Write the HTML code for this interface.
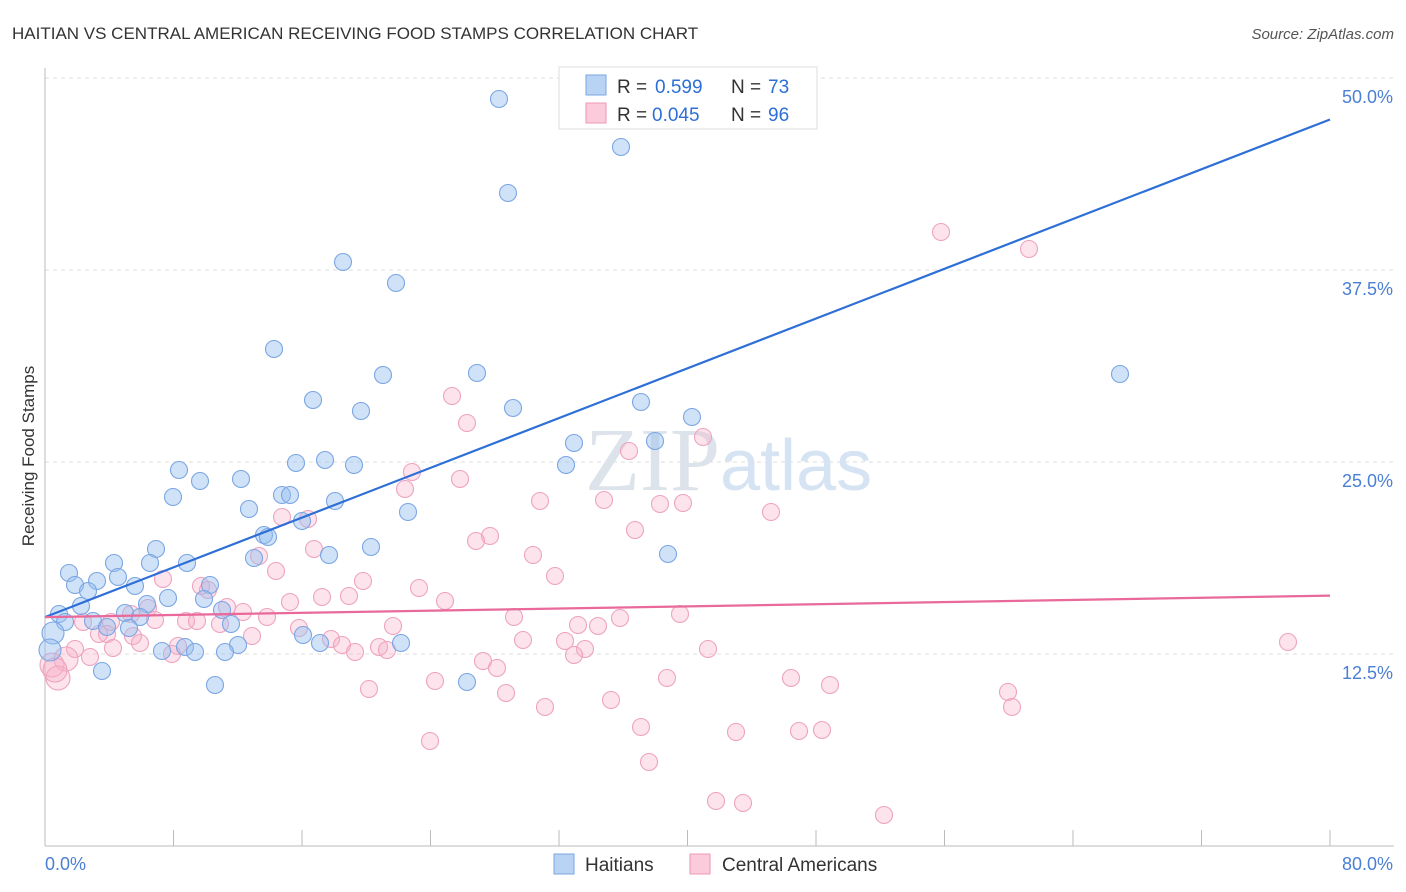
<!DOCTYPE html>
<html><head><meta charset="utf-8"><style>
body{margin:0;background:#fff;font-family:"Liberation Sans",sans-serif;}
svg{display:block}
</style></head><body>
<svg width="1406" height="892" xmlns="http://www.w3.org/2000/svg" font-family="Liberation Sans, sans-serif">
<text x="12" y="39" font-size="17" fill="#333">HAITIAN VS CENTRAL AMERICAN RECEIVING FOOD STAMPS CORRELATION CHART</text>
<text x="1394" y="39" font-size="15" fill="#555" font-style="italic" text-anchor="end">Source: ZipAtlas.com</text>
<g id="grid"></g>
<g id="axes"></g>
<text x="720" y="490" font-size="90" fill="#dde3ea" text-anchor="end" font-family="Liberation Serif, serif">ZIP</text>
<text x="720" y="490" font-size="72" fill="#d5e3f3">atlas</text>
<g id="pts"></g>
<g id="lines"></g>
<text transform="translate(34,456) rotate(-90)" font-size="17" fill="#333" text-anchor="middle">Receiving Food Stamps</text>
<g>
<rect x="559" y="67" width="258" height="62" fill="#fff" stroke="#ddd"/>
<rect x="586" y="75" width="20" height="20" fill="#b9d3f5" stroke="#7aa6e0"/>
<rect x="586" y="103" width="20" height="20" fill="#fbcadb" stroke="#ec9ab8"/>
<text x="617" y="93" font-size="19" fill="#333">R =</text>
<text x="655" y="93" font-size="19" fill="#2d6fd6">0.599</text>
<text x="731" y="93" font-size="19" fill="#333">N =</text>
<text x="768" y="93" font-size="19" fill="#2d6fd6">73</text>
<text x="617" y="121" font-size="19" fill="#333">R =</text>
<text x="652" y="121" font-size="19" fill="#2d6fd6">0.045</text>
<text x="731" y="121" font-size="19" fill="#333">N =</text>
<text x="768" y="121" font-size="19" fill="#2d6fd6">96</text>
</g>
<g>
<rect x="554" y="854" width="20" height="20" fill="#b9d3f5" stroke="#7aa6e0"/>
<text x="585" y="871" font-size="19" fill="#333">Haitians</text>
<rect x="690" y="854" width="20" height="20" fill="#fbcadb" stroke="#ec9ab8"/>
<text x="722" y="871" font-size="19" fill="#333">Central Americans</text>
</g>
</svg>
<script>
const yTicks=[12.5,25,37.5,50];
const yTickLabels=["12.5%","25.0%","37.5%","50.0%"];
const xTickVals=[0,8,16,24,32,40,48,56,64,72,80];
const blueX=[499,621,508,343,396,274,383,477,313,361,513,641,574,655,692,1120,179,200,173,241,296,325,354,282,290,335,249,302,264,268,408,371,329,668,566,156,187,114,150,69,97,118,75,135,210,254,88,81,168,147,204,59,125,140,222,93,65,107,129,231,53,303,320,238,185,162,195,225,401,102,215,467,50].map(p=>(p-45)/1285*80);
const blueY=[99,147,193,262,283,349,375,373,400,411,408,402,443,441,417,374,470,481,497,479,463,460,465,495,495,501,509,521,535,537,512,547,555,554,465,549,563,563,563,573,581,577,585,586,585,558,591,606,598,604,599,614,613,617,610,621,622,627,628,624,633,635,643,645,647,651,652,652,643,671,685,682,650].map(p=>(846-p)/15.36);
const pinkX=[941,1029,452,467,703,629,412,460,405,540,604,660,683,771,282,308,490,476,635,314,533,259,276,163,555,363,419,201,208,322,349,445,290,227,243,267,148,131,155,514,620,680,186,197,220,83,111,299,393,578,598,107,99,133,252,331,523,140,178,113,75,342,379,387,565,585,574,708,1288,172,90,355,66,483,497,52,58,667,791,830,435,369,506,611,1008,1012,545,641,736,799,822,430,649,716,743,884,55].map(p=>(p-45)/1285*80);
const pinkY=[232,249,396,423,437,451,472,479,489,501,500,504,503,512,517,519,536,541,530,549,555,556,571,579,576,581,588,586,590,597,596,601,602,607,612,617,608,614,620,617,618,614,621,621,624,622,622,628,626,625,626,634,634,636,636,639,640,643,646,648,649,645,647,650,641,649,655,649,642,654,657,652,659,661,668,665,678,678,678,685,681,689,693,700,692,707,707,727,732,731,730,741,762,801,803,815,670].map(p=>(846-p)/15.36);
const blueLine=[14.9,47.3];
const pinkLine=[14.9,16.3];
const X=v=>45+v/80*1285, Y=v=>846-v*15.36;
const NS="http://www.w3.org/2000/svg";
function mk(t,a,parent){const e=document.createElementNS(NS,t);for(const k in a)e.setAttribute(k,a[k]);parent.appendChild(e);return e;}
const grid=document.getElementById('grid'),axes=document.getElementById('axes'),pts=document.getElementById('pts'),lines=document.getElementById('lines');
yTicks.forEach((v,i)=>{
 const l=mk('line',{x1:45,x2:1394,y1:Y(v),y2:Y(v),stroke:'#ddd','stroke-dasharray':'4,4'},grid);
 
 
 const t=mk('text',{x:1393,y:Y(v)+25,'font-size':18,fill:'#4a7fd4','text-anchor':'end'},axes);
 t.textContent=yTickLabels[i];
 
 
});
const ax=mk('line',{x1:45,x2:1394,y1:846,y2:846,stroke:'#bbb'},axes);


const ay=mk('line',{x1:45,x2:45,y1:68,y2:846,stroke:'#bbb'},axes);


xTickVals.forEach(v=>{const t=mk('line',{x1:X(v),x2:X(v),y1:830,y2:846,stroke:'#bbb'},axes);
 
 });
const xl0=mk('text',{x:45,y:870,'font-size':18,fill:'#4a7fd4'},axes);xl0.textContent='0.0%';


const xl1=mk('text',{x:1393,y:870,'font-size':18,fill:'#4a7fd4','text-anchor':'end'},axes);xl1.textContent='80.0%';


pinkX.forEach((x,i)=>{const r=(x<1.5)?12:8.5;const c=mk('circle',{cx:X(x),cy:Y(pinkY[i]),r:r,fill:'rgba(246,175,200,0.35)',stroke:'#eea3bf','stroke-width':1.1},pts);
 
 });
blueX.forEach((x,i)=>{const r=(x<0.5)?11:8.5;const c=mk('circle',{cx:X(x),cy:Y(blueY[i]),r:r,fill:'rgba(150,190,240,0.45)',stroke:'#7aa6e3','stroke-width':1.1},pts);
 
 });
const bl=mk('line',{x1:X(0),y1:Y(blueLine[0]),x2:X(80),y2:Y(blueLine[1]),stroke:'#2d6fd6','stroke-width':2.2},lines);


const pl=mk('line',{x1:X(0),y1:Y(pinkLine[0]),x2:X(80),y2:Y(pinkLine[1]),stroke:'#e8699a','stroke-width':2.2},lines);


</script>
</body></html>
